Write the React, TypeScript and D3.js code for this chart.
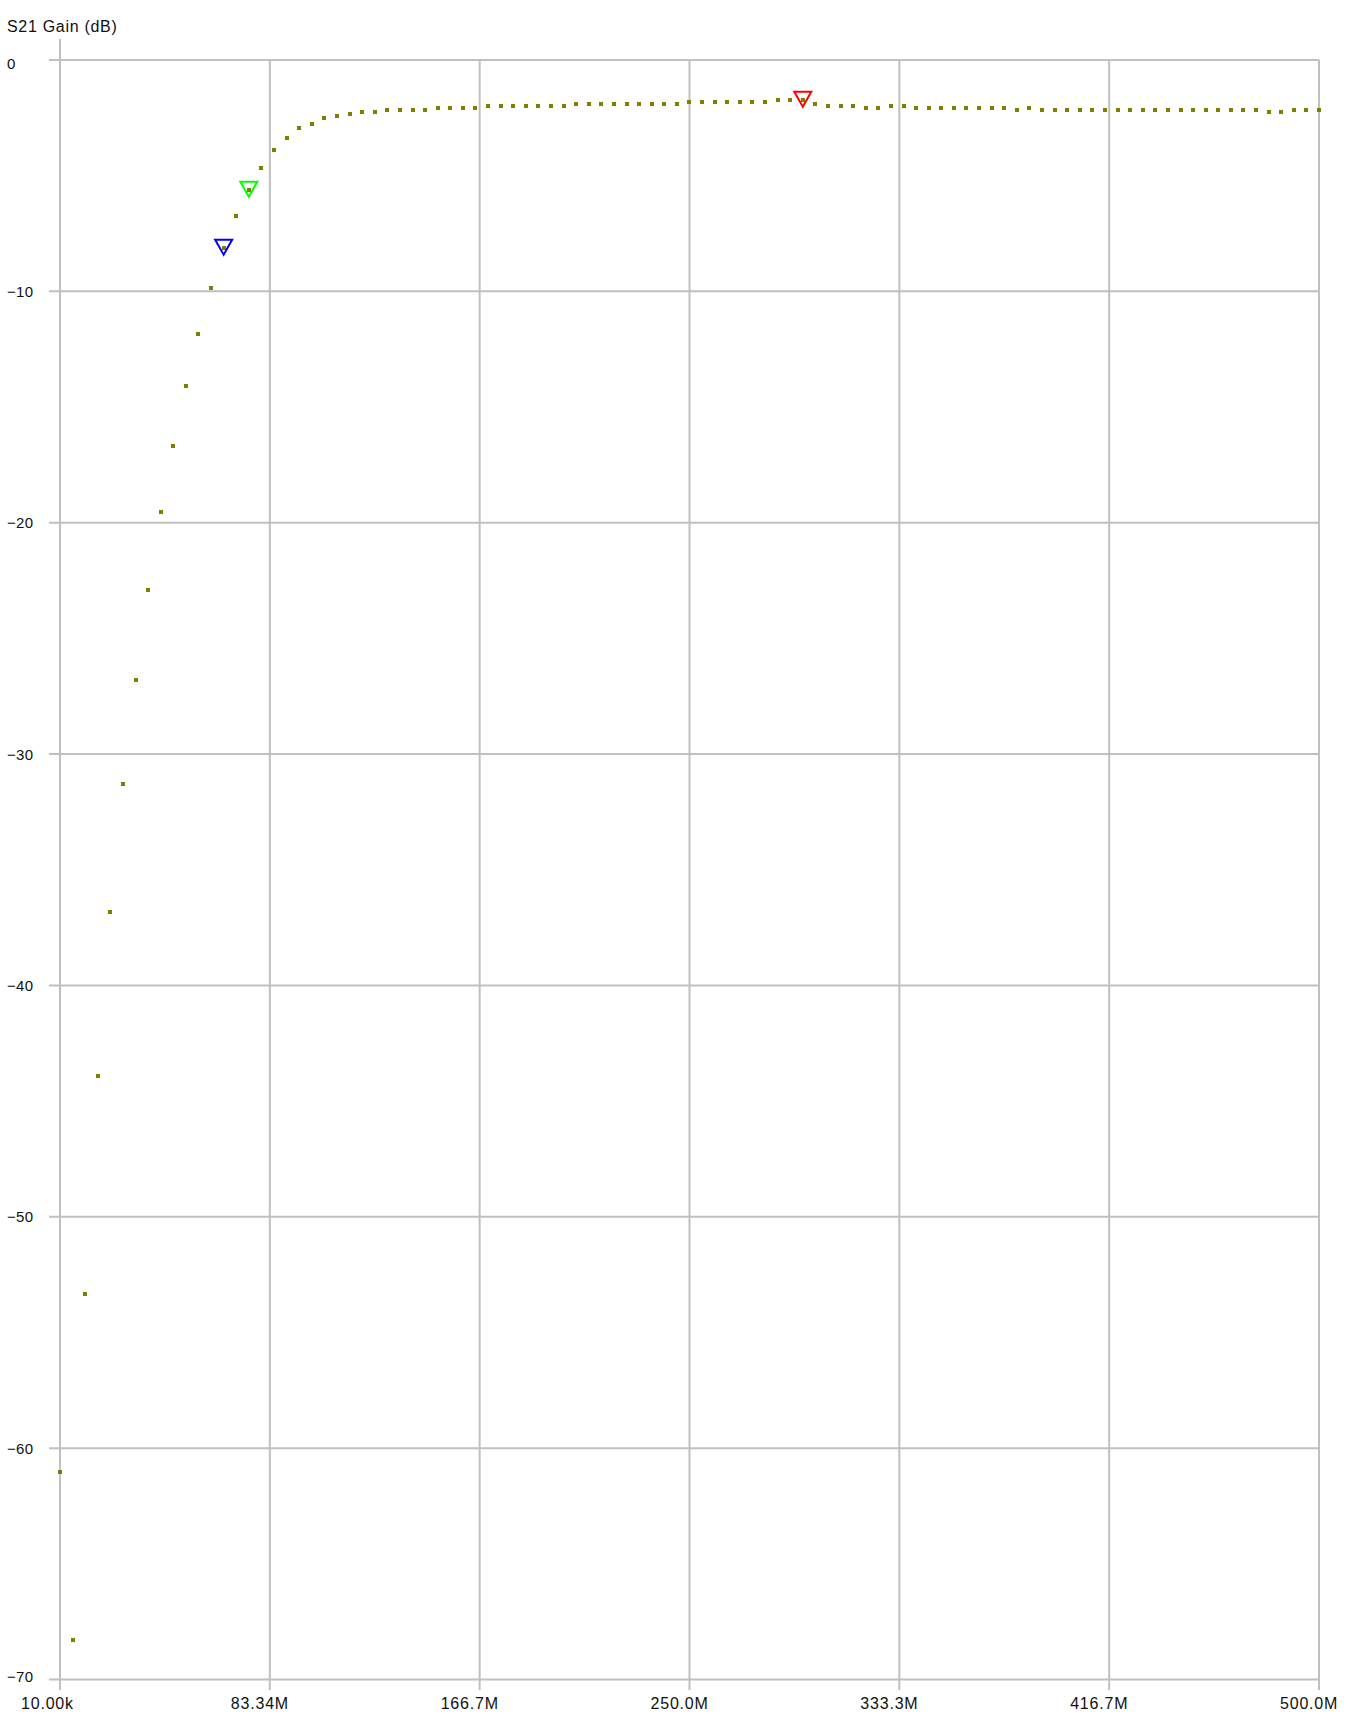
import React from "react";
import * as d3 from "d3";

// Sweep frequencies (MHz), 101 points from 10 kHz to 500 MHz
const freqMHz: number[] = [
  0.01, 5, 10, 15, 20, 25, 30, 35, 40, 45,
  50, 55, 60, 65, 70, 75, 80, 85, 90, 95,
  100, 105, 110, 115, 120, 125, 130, 135, 140, 145,
  150, 155, 160, 165, 170, 175, 180, 185, 190, 195,
  200, 205, 210, 215, 220, 225, 230, 235, 240, 245,
  250, 255, 260, 265, 270, 275, 280, 285, 290, 295,
  300, 305, 310, 315, 320, 325, 330, 335, 340, 345,
  350, 355, 360, 365, 370, 375, 380, 385, 390, 395,
  400, 405, 410, 415, 420, 425, 430, 435, 440, 445,
  450, 455, 460, 465, 470, 475, 480, 485, 490, 495,
  500,
];

// S21 gain (dB)
const gainDb: number[] = [
  -61.01, -68.28, -53.32, -43.9, -36.81, -31.28, -26.78, -22.89, -19.52, -16.67,
  -14.09, -11.83, -9.84, -8.11, -6.73, -5.61, -4.66, -3.88, -3.36, -2.93,
  -2.75, -2.49, -2.41, -2.32, -2.23, -2.23, -2.15, -2.15, -2.15, -2.15,
  -2.06, -2.06, -2.06, -2.06, -1.97, -1.97, -1.97, -1.97, -1.97, -1.97,
  -1.97, -1.89, -1.89, -1.89, -1.89, -1.89, -1.89, -1.89, -1.89, -1.89,
  -1.8, -1.8, -1.8, -1.8, -1.8, -1.8, -1.8, -1.72, -1.72, -1.72,
  -1.89, -1.97, -1.97, -1.97, -2.06, -2.06, -1.97, -1.97, -2.06, -2.06,
  -2.06, -2.06, -2.06, -2.06, -2.06, -2.06, -2.15, -2.06, -2.15, -2.15,
  -2.15, -2.15, -2.15, -2.15, -2.15, -2.15, -2.15, -2.15, -2.15, -2.15,
  -2.15, -2.15, -2.15, -2.15, -2.15, -2.15, -2.23, -2.23, -2.15, -2.15,
  -2.15,
];

// Markers: index into the sweep and colour
const markerIndex: number[] = [13, 15, 59];
const markerColor: string[] = ["#0000ff", "#00ff00", "#ff0000"];

// Axis ticks
const xTicksMHz: number[] = [0.01, 83.34, 166.67, 250.005, 333.34, 416.67, 500];
const xTickLabels: string[] = ["10.00k", "83.34M", "166.7M", "250.0M", "333.3M", "416.7M", "500.0M"];
const yTicks: number[] = [0, -10, -20, -30, -40, -50, -60, -70];

const yTitle = "S21 Gain (dB)";

export default function App() {
  const W = 1360;
  const H = 1720;
  const left = 60;
  const right = 1319;
  const top = 60;
  const bottom = 1679.5;

  const x = d3.scaleLinear().domain([0.01, 500]).range([left, right]);
  const y = d3.scaleLinear().domain([0, -70]).range([top, bottom]);
  const fmt = d3.format("d");
  const font = "'Liberation Sans', Arial, Helvetica, sans-serif";
  const grid = "#c0c0c0";
  const ink = "#111";

  const tri = (cx: number, cy: number) =>
    `M${cx - 8.5},${cy - 8}L${cx + 8.5},${cy - 8}L${cx},${cy + 7}Z`;

  return (
    <svg
      width={W}
      height={H}
      viewBox={`0 0 ${W} ${H}`}
      style={{ position: "absolute", left: 0, top: 0, background: "#fff" }}
    >
      <rect x={0} y={0} width={W} height={H} fill="#ffffff" />
      {/* horizontal grid lines */}
      {yTicks.map((t) => (
        <line
          key={"h" + t}
          x1={49}
          x2={right}
          y1={y(t)}
          y2={y(t)}
          stroke={grid}
          strokeWidth={2}
        />
      ))}
      {/* vertical grid lines */}
      {xTicksMHz.map((t, i) => (
        <line
          key={"v" + i}
          x1={x(t)}
          x2={x(t)}
          y1={i === 0 ? 39 : top}
          y2={1690}
          stroke={grid}
          strokeWidth={2}
        />
      ))}
      {/* y labels */}
      {yTicks.map((t) => {
        const cy = Math.min(Math.max(y(t), 63), 1676);
        return (
          <text
            key={"yl" + t}
            x={7}
            y={cy + 5.5}
            fontFamily={font}
            fontSize={15}
            letterSpacing={0.3}
            fill={ink}
          >
            {fmt(t)}
          </text>
        );
      })}
      {/* x labels */}
      {xTicksMHz.map((t, i) => (
        <text
          key={"xl" + i}
          x={x(t) - 39}
          y={1709}
          fontFamily={font}
          fontSize={16}
          letterSpacing={0.8}
          fill={ink}
        >
          {xTickLabels[i]}
        </text>
      ))}
      {/* y title */}
      <text x={7} y={32} fontFamily={font} fontSize={16} letterSpacing={0.7} fill={ink}>
        {yTitle}
      </text>
      {/* data points */}
      {gainDb.map((g, i) => (
        <rect
          key={"p" + i}
          x={Math.round(x(freqMHz[i])) - 2}
          y={Math.round(y(g)) - 2}
          width={4}
          height={4}
          fill="#808000"
          shapeRendering="crispEdges"
        />
      ))}
      {/* markers */}
      {markerIndex.map((mi, k) => (
        <path
          key={"m" + k}
          d={tri(x(freqMHz[mi]), y(gainDb[mi]))}
          fill="none"
          stroke={markerColor[k]}
          strokeWidth={2}
        />
      ))}
    </svg>
  );
}
